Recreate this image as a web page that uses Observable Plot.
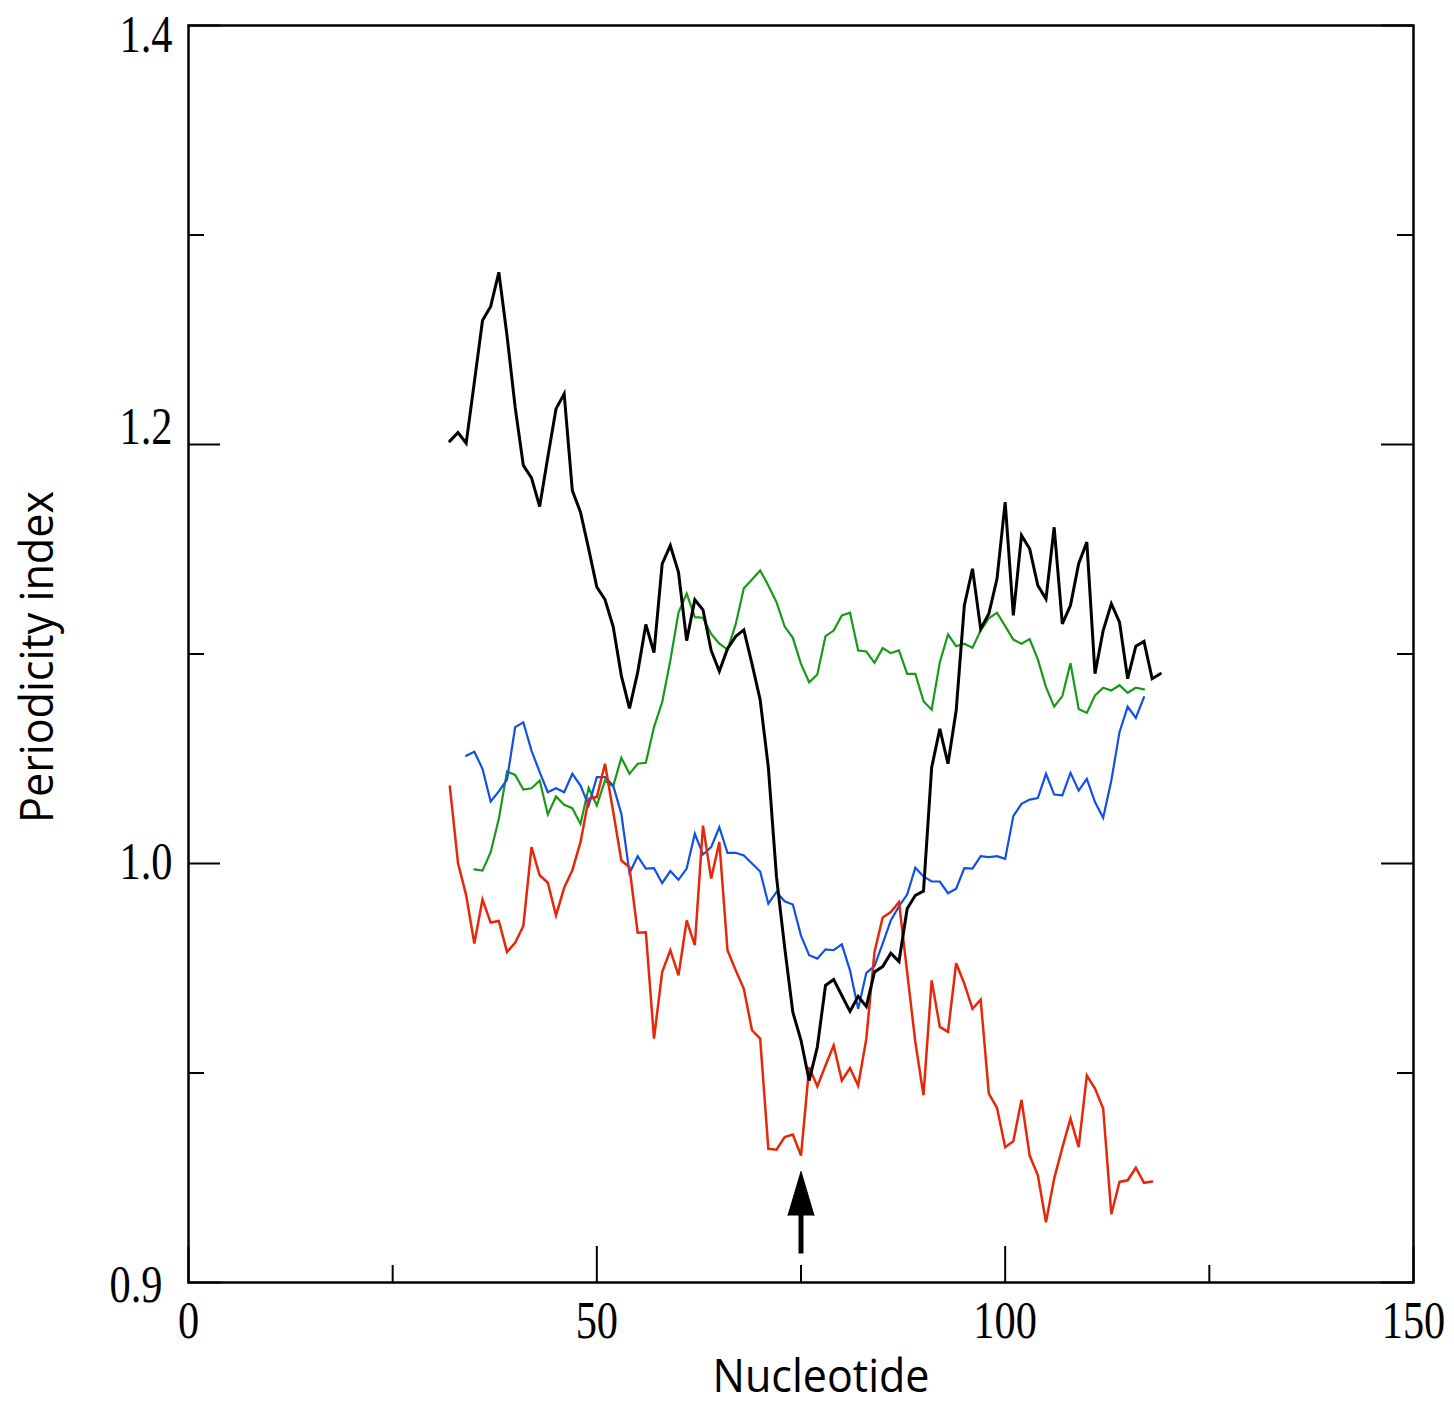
<!DOCTYPE html>
<html>
<head>
<meta charset="utf-8">
<script src="https://cdn.jsdelivr.net/npm/d3@7"></script>
<script src="https://cdn.jsdelivr.net/npm/@observablehq/plot@0.6"></script>
<style>
  html, body { margin: 0; padding: 0; background: #fff; overflow: hidden; }
  #chart svg { display: block; }
</style>
</head>
<body>
<div id="chart"></div>
<script>
// ---------- data ----------
const blackStart = 32;
const blackValues = [
  1.2016, 1.2057, 1.2006, 1.2297, 1.2592, 1.2659, 1.2822, 1.2520, 1.2178, 1.1900,
  1.1841, 1.1704, 1.1940, 1.2170, 1.2242, 1.1780, 1.1677, 1.1502, 1.1319, 1.1260,
  1.1131, 1.0897, 1.0740, 1.0912, 1.1141, 1.1007, 1.1430, 1.1518, 1.1390, 1.1064,
  1.1259, 1.1211, 1.1017, 1.0918, 1.1025, 1.1084, 1.1115, 1.0953, 1.0781, 1.0460,
  0.9968, 0.9800, 0.9645, 0.9578, 0.9482, 0.9562, 0.9709, 0.9723, 0.9685, 0.9647,
  0.9683, 0.9659, 0.9741, 0.9754, 0.9786, 0.9766, 0.9892, 0.9924, 0.9934, 1.0458,
  1.0643, 1.0476, 1.0730, 1.1232, 1.1407, 1.1120, 1.1192, 1.1359, 1.1725, 1.1184,
  1.1566, 1.1502, 1.1327, 1.1263, 1.1605, 1.1144, 1.1232, 1.1431, 1.1534, 1.0906,
  1.1112, 1.1240, 1.1152, 1.0882, 1.1037, 1.1060, 1.0882, 1.0906
];

const greenStart = 35;
const greenValues = [
  0.9986, 0.9983, 1.0054, 1.0213, 1.0439, 1.0423, 1.0353, 1.0359, 1.0396, 1.0234,
  1.0320, 1.0280, 1.0264, 1.0189, 1.0361, 1.0277, 1.0396, 1.0368, 1.0505, 1.0428,
  1.0476, 1.0481, 1.0651, 1.0770, 1.0969, 1.1198, 1.1289, 1.1176, 1.1173, 1.1096,
  1.1049, 1.1021, 1.1141, 1.1314, 1.1356, 1.1399, 1.1327, 1.1247, 1.1131, 1.1077,
  1.0953, 1.0865, 1.0902, 1.1085, 1.1112, 1.1184, 1.1197, 1.1017, 1.1012, 1.0958,
  1.1028, 1.1004, 1.1017, 1.0905, 1.0905, 1.0775, 1.0734, 1.0961, 1.1093, 1.1037,
  1.1049, 1.1030, 1.1112, 1.1171, 1.1197, 1.1133, 1.1069, 1.1049, 1.1071, 1.0974,
  1.0842, 1.0749, 1.0799, 1.0956, 1.0738, 1.0719, 1.0802, 1.0839, 1.0826, 1.0851,
  1.0815, 1.0839, 1.0831
];

const blueStart = 34;
const blueValues = [
  1.0514, 1.0533, 1.0452, 1.0296, 1.0344, 1.0400, 1.0651, 1.0674, 1.0539, 1.0436,
  1.0340, 1.0359, 1.0340, 1.0428, 1.0372, 1.0277, 1.0412, 1.0412, 1.0372, 1.0237,
  0.9977, 1.0035, 0.9988, 0.9989, 0.9953, 0.9982, 0.9961, 0.9988, 1.0142, 1.0043,
  1.0078, 1.0173, 1.0051, 1.0051, 1.0038, 1.0000, 0.9981, 0.9904, 0.9932, 0.9910,
  0.9902, 0.9828, 0.9781, 0.9773, 0.9795, 0.9793, 0.9807, 0.9745, 0.9653, 0.9739,
  0.9755, 0.9809, 0.9864, 0.9898, 0.9926, 0.9990, 0.9969, 0.9957, 0.9957, 0.9929,
  0.9940, 0.9989, 0.9988, 1.0035, 1.0030, 1.0035, 1.0022, 1.0226, 1.0285, 1.0305,
  1.0312, 1.0428, 1.0329, 1.0325, 1.0433, 1.0348, 1.0404, 1.0293, 1.0218, 1.0396,
  1.0627, 1.0749, 1.0695, 1.0794
];

const redStart = 32;
const redValues = [
  1.0368, 1.0002, 0.9924, 0.9809, 0.9914, 0.9859, 0.9863, 0.9789, 0.9811, 0.9851,
  1.0078, 0.9972, 0.9954, 0.9876, 0.9942, 0.9984, 1.0102, 1.0309, 1.0317, 1.0476,
  1.0248, 1.0014, 0.9991, 0.9835, 0.9836, 0.9582, 0.9741, 0.9793, 0.9733, 0.9864,
  0.9805, 1.0181, 0.9964, 1.0102, 0.9793, 0.9745, 0.9701, 0.9602, 0.9582, 0.9319,
  0.9317, 0.9347, 0.9353, 0.9303, 0.9514, 0.9468, 0.9518, 0.9566, 0.9482, 0.9512,
  0.9470, 0.9582, 0.9789, 0.9871, 0.9884, 0.9908, 0.9740, 0.9574, 0.9447, 0.9721,
  0.9610, 0.9598, 0.9762, 0.9713, 0.9653, 0.9675, 0.9451, 0.9417, 0.9323, 0.9337,
  0.9436, 0.9303, 0.9256, 0.9144, 0.9248, 0.9322, 0.9391, 0.9323, 0.9494, 0.9463,
  0.9415, 0.9163, 0.9240, 0.9244, 0.9274, 0.9238, 0.9241
];

// axis ticks and labels
const xDomain = [0, 150];
const xMajorTicks = [0, 50, 100, 150];
const xMinorTicks = [25, 75, 125];
const yDomain = [0.9, 1.4];
const yBreak = 1.0;                 // below 1.0 the axis is stretched x2 (0.9–1.0 spans as much as 1.0–1.2)
const yMajorTicks = [0.9, 1.0, 1.2, 1.4];
const yMinorTicks = [0.95, 1.1, 1.3];
const yTickLabels = ["0.9", "1.0", "1.2", "1.4"];

// annotation arrow (points at nucleotide 75)
const arrowNucleotide = 75;
const arrowShaft = [0.9068, 0.9165];
const arrowHeadBase = 0.916;

const xTitle = "Nucleotide";
const yTitle = "Periodicity index";

// ---------- layout / style ----------
const W = 1454, H = 1402;
const mL = 188, mR = 41, mT = 25, mB = 120;
const plotW = W - mL - mR, plotH = H - mT - mB;
const majorLen = 32, minorLen = 16, xMajorLen = 36, xMinorLen = 17;
const serif = "'Liberation Serif', 'Times New Roman', serif";
const sans = "'Open Sans', 'Noto Sans', sans-serif";
const yLabelNudge = [{dx: -10, dy: 3}, {dx: 0, dy: -1}, {dx: 0, dy: -17}, {dx: 0, dy: 10}];
const breakTransform = v => (v < yBreak ? yBreak - 2 * (yBreak - v) : v);

const rows = (start, values) => values.map((v, i) => ({n: start + i, v}));
const series = [
  {data: rows(greenStart, greenValues), color: "#189a18", width: 2.2},
  {data: rows(blueStart, blueValues), color: "#1050e6", width: 2.2},
  {data: rows(redStart, redValues), color: "#e6280a", width: 2.5},
  {data: rows(blackStart, blackValues), color: "#000000", width: 3}
];

const tickStyle = {stroke: "black", strokeWidth: 2};

const marks = [
  ...series.map(s => Plot.line(s.data, {
    x: "n", y: "v", stroke: s.color, strokeWidth: s.width,
    strokeLinejoin: "miter", strokeMiterlimit: 4
  })),
  Plot.frame({stroke: "black", strokeWidth: 2.5}),
  Plot.tickY(yMajorTicks, {y: d => d, insetRight: plotW - majorLen, ...tickStyle}),
  Plot.tickY(yMinorTicks, {y: d => d, insetRight: plotW - minorLen, ...tickStyle}),
  Plot.tickY(yMajorTicks, {y: d => d, insetLeft: plotW - majorLen, ...tickStyle}),
  Plot.tickY(yMinorTicks, {y: d => d, insetLeft: plotW - minorLen, ...tickStyle}),
  Plot.tickX(xMajorTicks, {x: d => d, insetTop: plotH - xMajorLen, ...tickStyle}),
  Plot.tickX(xMinorTicks, {x: d => d, insetTop: plotH - xMinorLen, ...tickStyle}),
  Plot.text(xMajorTicks, {
    x: d => d, text: d => String(d), frameAnchor: "bottom", lineAnchor: "middle",
    dy: 39, fontSize: 53, fontFamily: serif, fill: "black"
  }),
  ...yMajorTicks.map((t, i) => Plot.text([t], {
    y: d => d, text: () => yTickLabels[i], frameAnchor: "left", textAnchor: "end",
    lineAnchor: "middle", dx: -16 + yLabelNudge[i].dx, dy: yLabelNudge[i].dy,
    fontSize: 53, fontFamily: serif, fill: "black"
  })),
  Plot.text([xTitle], {
    text: d => d, frameAnchor: "bottom", lineAnchor: "middle", dx: 20, dy: 95,
    fontSize: 45, fontFamily: sans, fill: "black"
  }),
  Plot.text([yTitle], {
    text: d => d, frameAnchor: "left", rotate: -90, textAnchor: "middle", lineAnchor: "middle",
    dx: -150, dy: 3, fontSize: 45, fontFamily: sans, fill: "black"
  }),
  Plot.ruleX([arrowNucleotide], {x: d => d, y1: () => arrowShaft[0], y2: () => arrowShaft[1], stroke: "black", strokeWidth: 5}),
  Plot.vector([arrowNucleotide], {
    x: d => d, y: () => arrowHeadBase, length: 44, r: 13, shape: "spike",
    anchor: "start", fill: "black", stroke: "black", strokeWidth: 1
  })
];

const chart = Plot.plot({
  width: W, height: H,
  marginLeft: mL, marginRight: mR, marginTop: mT, marginBottom: mB,
  x: {domain: xDomain, axis: null},
  y: {domain: yDomain.map(breakTransform), transform: breakTransform, axis: null},
  style: {background: "white", overflow: "visible"},
  marks
});
document.getElementById("chart").appendChild(chart);

chart.querySelectorAll("text").forEach(t => {
  const s = t.textContent;
  const len = t.getComputedTextLength();
  let target = null;
  if (/^[0-9.]+$/.test(s)) target = len * 0.8;
  else if (s === xTitle) target = 217;
  else if (s === yTitle) target = 332;
  if (target) {
    t.setAttribute("textLength", target.toFixed(1));
    t.setAttribute("lengthAdjust", "spacingAndGlyphs");
  }
});
</script>
</body>
</html>
